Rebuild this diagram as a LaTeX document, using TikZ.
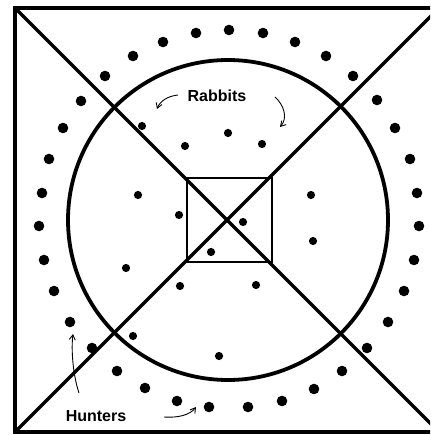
\documentclass[tikz,border=0pt]{standalone}
\usepackage{fontspec}
\setmainfont{Liberation Sans}
\usetikzlibrary{arrows.meta}
\begin{document}
\begin{tikzpicture}[x=1pt,y=-1pt,
  heavy/.style={line width=3.8pt, draw=black},
  diag/.style={line width=3.4pt, draw=black},
  thinsq/.style={line width=1.8pt, draw=black},
  lbl/.style={font=\fontsize{16}{19}\selectfont\bfseries, inner sep=0pt},
  arr/.style={line width=0.9pt, -{Straight Barb[length=5pt,width=6pt]}}]
\useasboundingbox (0,0) rectangle (430,435);
\clip (0,0) rectangle (430,435);
\fill[white] (0,0) rectangle (430,435);
% outer square and diagonals
\coordinate (tl) at (15,8);
\coordinate (tr) at (439,8);
\coordinate (br) at (439,432);
\coordinate (bl) at (15,432);
\draw[heavy] (tl) -- (tr) -- (br) -- (bl) -- cycle;
\draw[diag] (tl) -- (br);
\draw[diag] (bl) -- (tr);
% circle
\draw[line width=3.8pt] (228,220) circle (160);
% small square
\draw[thinsq] (187,178) rectangle (272,262);
% outer ring dots (hunters)
\foreach \p in {(196,33),(163,42),(133,56),(105,76),(81,101),(63,128),(49,159),(42,193),
  (229,30),(263,33),(295,42),(326,56),(353,76),(377,100),(395,128),(410,159),(417,193),
  (39,226),(44,260),(54,291),(70,322),(92,348),(117,371),(145,388),(177,401),(209,407),
  (419,226),(414,260),(404,291),(388,322),(367,348),(342,371),(314,389),(282,401),(248,407)}
  \fill[black] \p circle (5.3);
% inner dots (rabbits)
\foreach \p in {(142,126),(185,146),(138,195),(179,215),(228,133),(262,144),(311,195),
  (243,222),(126,268),(180,286),(133,336),(211,252),(313,241),(256,285),(219,356)}
  \fill[black] \p circle (4.1);
% labels
\node[lbl] (rabbits) at (217,96) {Rabbits};
\node[lbl] (hunters) at (96,416) {Hunters};
% arrows
\coordinate (ra1s) at (178,95);
\coordinate (ra1e) at (157,109);
\draw[arr] (ra1s) .. controls (168,96) and (160,101) .. (ra1e);
\coordinate (ra2s) at (275,97);
\coordinate (ra2e) at (280,127);
\draw[arr] (ra2s) .. controls (284,105) and (288,118) .. (ra2e);
\coordinate (ha1s) at (79,393);
\coordinate (ha1e) at (73,334);
\draw[arr] (ha1s) .. controls (73,375) and (71,350) .. (ha1e);
\coordinate (ha2s) at (164,417);
\coordinate (ha2e) at (196,407);
\draw[arr] (ha2s) .. controls (178,418) and (190,415) .. (ha2e);
\end{tikzpicture}
\end{document}
